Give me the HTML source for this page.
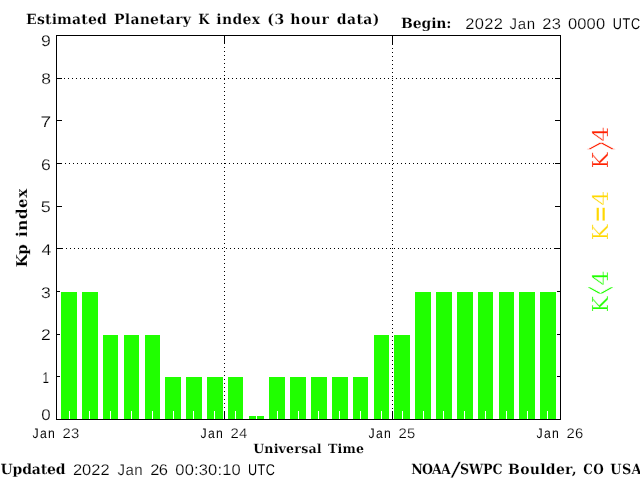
<!DOCTYPE html>
<html lang="en"><head><meta charset="utf-8"><title>Estimated Planetary K index</title>
<style>html,body{margin:0;padding:0;background:#fff;overflow:hidden}svg{display:block}text{white-space:pre;text-rendering:geometricPrecision}</style></head>
<body><svg width="640" height="480" viewBox="0 0 640 480">
<rect width="640" height="480" fill="#fff"/>
<g shape-rendering="crispEdges">
<rect x="56" y="35" width="505" height="1" fill="#000"/>
<rect x="56" y="419" width="505" height="1" fill="#000"/>
<rect x="56" y="35" width="1" height="385" fill="#000"/>
<rect x="560" y="35" width="1" height="385" fill="#000"/>
<rect x="57" y="376" width="5" height="1" fill="#000"/>
<rect x="555" y="376" width="5" height="1" fill="#000"/>
<rect x="57" y="334" width="5" height="1" fill="#000"/>
<rect x="555" y="334" width="5" height="1" fill="#000"/>
<rect x="57" y="291" width="5" height="1" fill="#000"/>
<rect x="555" y="291" width="5" height="1" fill="#000"/>
<rect x="57" y="248" width="5" height="1" fill="#000"/>
<rect x="555" y="248" width="5" height="1" fill="#000"/>
<rect x="57" y="206" width="5" height="1" fill="#000"/>
<rect x="555" y="206" width="5" height="1" fill="#000"/>
<rect x="57" y="163" width="5" height="1" fill="#000"/>
<rect x="555" y="163" width="5" height="1" fill="#000"/>
<rect x="57" y="120" width="5" height="1" fill="#000"/>
<rect x="555" y="120" width="5" height="1" fill="#000"/>
<rect x="57" y="78" width="5" height="1" fill="#000"/>
<rect x="555" y="78" width="5" height="1" fill="#000"/>
<rect x="224" y="36" width="1" height="8" fill="#000"/>
<rect x="224" y="411" width="1" height="8" fill="#000"/>
<rect x="392" y="36" width="1" height="8" fill="#000"/>
<rect x="392" y="411" width="1" height="8" fill="#000"/>
<line x1="60" y1="78.5" x2="557" y2="78.5" stroke="#000" stroke-dasharray="1 3"/>
<line x1="61" y1="163.5" x2="557" y2="163.5" stroke="#000" stroke-dasharray="1 3"/>
<line x1="62" y1="248.5" x2="557" y2="248.5" stroke="#000" stroke-dasharray="1 3"/>
<line x1="224.5" y1="47" x2="224.5" y2="410" stroke="#000" stroke-dasharray="1 3"/>
<line x1="392.5" y1="44" x2="392.5" y2="410" stroke="#000" stroke-dasharray="1 3"/>
<rect x="60" y="291" width="18" height="128" fill="#fff"/>
<rect x="61" y="292" width="16" height="127" fill="#20ff00"/>
<rect x="81" y="291" width="18" height="128" fill="#fff"/>
<rect x="82" y="292" width="16" height="127" fill="#20ff00"/>
<rect x="102" y="334" width="17" height="85" fill="#fff"/>
<rect x="103" y="335" width="15" height="84" fill="#20ff00"/>
<rect x="123" y="334" width="17" height="85" fill="#fff"/>
<rect x="124" y="335" width="15" height="84" fill="#20ff00"/>
<rect x="144" y="334" width="17" height="85" fill="#fff"/>
<rect x="145" y="335" width="15" height="84" fill="#20ff00"/>
<rect x="164" y="376" width="18" height="43" fill="#fff"/>
<rect x="165" y="377" width="16" height="42" fill="#20ff00"/>
<rect x="185" y="376" width="18" height="43" fill="#fff"/>
<rect x="186" y="377" width="16" height="42" fill="#20ff00"/>
<rect x="206" y="376" width="18" height="43" fill="#fff"/>
<rect x="207" y="377" width="16" height="42" fill="#20ff00"/>
<rect x="227" y="376" width="17" height="43" fill="#fff"/>
<rect x="228" y="377" width="15" height="42" fill="#20ff00"/>
<rect x="248" y="415" width="17" height="4" fill="#fff"/>
<rect x="249" y="416" width="15" height="3" fill="#20ff00"/>
<rect x="268" y="376" width="18" height="43" fill="#fff"/>
<rect x="269" y="377" width="16" height="42" fill="#20ff00"/>
<rect x="289" y="376" width="18" height="43" fill="#fff"/>
<rect x="290" y="377" width="16" height="42" fill="#20ff00"/>
<rect x="310" y="376" width="18" height="43" fill="#fff"/>
<rect x="311" y="377" width="16" height="42" fill="#20ff00"/>
<rect x="331" y="376" width="18" height="43" fill="#fff"/>
<rect x="332" y="377" width="16" height="42" fill="#20ff00"/>
<rect x="352" y="376" width="17" height="43" fill="#fff"/>
<rect x="353" y="377" width="15" height="42" fill="#20ff00"/>
<rect x="373" y="334" width="17" height="85" fill="#fff"/>
<rect x="374" y="335" width="15" height="84" fill="#20ff00"/>
<rect x="393" y="334" width="18" height="85" fill="#fff"/>
<rect x="394" y="335" width="16" height="84" fill="#20ff00"/>
<rect x="414" y="291" width="18" height="128" fill="#fff"/>
<rect x="415" y="292" width="16" height="127" fill="#20ff00"/>
<rect x="435" y="291" width="18" height="128" fill="#fff"/>
<rect x="436" y="292" width="16" height="127" fill="#20ff00"/>
<rect x="456" y="291" width="18" height="128" fill="#fff"/>
<rect x="457" y="292" width="16" height="127" fill="#20ff00"/>
<rect x="477" y="291" width="17" height="128" fill="#fff"/>
<rect x="478" y="292" width="15" height="127" fill="#20ff00"/>
<rect x="498" y="291" width="17" height="128" fill="#fff"/>
<rect x="499" y="292" width="15" height="127" fill="#20ff00"/>
<rect x="518" y="291" width="18" height="128" fill="#fff"/>
<rect x="519" y="292" width="16" height="127" fill="#20ff00"/>
<rect x="539" y="291" width="18" height="128" fill="#fff"/>
<rect x="540" y="292" width="16" height="127" fill="#20ff00"/>
<rect x="69" y="411" width="1" height="8" fill="#fff"/>
<rect x="89" y="411" width="1" height="8" fill="#fff"/>
<rect x="110" y="411" width="1" height="8" fill="#fff"/>
<rect x="131" y="411" width="1" height="8" fill="#fff"/>
<rect x="152" y="411" width="1" height="8" fill="#fff"/>
<rect x="173" y="411" width="1" height="8" fill="#fff"/>
<rect x="193" y="411" width="1" height="8" fill="#fff"/>
<rect x="214" y="411" width="1" height="8" fill="#fff"/>
<rect x="235" y="411" width="1" height="8" fill="#fff"/>
<rect x="256" y="411" width="1" height="8" fill="#fff"/>
<rect x="277" y="411" width="1" height="8" fill="#fff"/>
<rect x="298" y="411" width="1" height="8" fill="#fff"/>
<rect x="318" y="411" width="1" height="8" fill="#fff"/>
<rect x="339" y="411" width="1" height="8" fill="#fff"/>
<rect x="360" y="411" width="1" height="8" fill="#fff"/>
<rect x="381" y="411" width="1" height="8" fill="#fff"/>
<rect x="402" y="411" width="1" height="8" fill="#fff"/>
<rect x="423" y="411" width="1" height="8" fill="#fff"/>
<rect x="443" y="411" width="1" height="8" fill="#fff"/>
<rect x="464" y="411" width="1" height="8" fill="#fff"/>
<rect x="485" y="411" width="1" height="8" fill="#fff"/>
<rect x="506" y="411" width="1" height="8" fill="#fff"/>
<rect x="527" y="411" width="1" height="8" fill="#fff"/>
<rect x="547" y="411" width="1" height="8" fill="#fff"/>
</g>
<g>
<text><tspan x="26.11" y="24" style="font-family:'DejaVu Serif','Liberation Serif',serif;font-weight:700;fill:#000;stroke:#fff;stroke-width:0.15px;font-size:14px;letter-spacing:0.166px">Estimated</tspan> <tspan x="114.11" y="24" style="font-family:'DejaVu Serif','Liberation Serif',serif;font-weight:700;fill:#000;stroke:#fff;stroke-width:0.15px;font-size:14px;letter-spacing:0.226px">Planetary</tspan> <tspan x="198.17" y="24" textLength="11.237" lengthAdjust="spacingAndGlyphs" style="font-family:'DejaVu Serif','Liberation Serif',serif;font-weight:700;fill:#000;stroke:#fff;stroke-width:0.15px;font-size:14px">K</tspan> <tspan x="216.23" y="24" style="font-family:'DejaVu Serif','Liberation Serif',serif;font-weight:700;fill:#000;stroke:#fff;stroke-width:0.15px;font-size:14px;letter-spacing:0.352px">index</tspan> <tspan x="267.23" y="24" style="font-family:'DejaVu Serif','Liberation Serif',serif;font-weight:700;fill:#000;stroke:#fff;stroke-width:0.15px;font-size:14px;letter-spacing:0.656px">(3</tspan> <tspan x="290.27" y="24" style="font-family:'DejaVu Serif','Liberation Serif',serif;font-weight:700;fill:#000;stroke:#fff;stroke-width:0.15px;font-size:14px;letter-spacing:0.541px">hour</tspan> <tspan x="336.72" y="24" style="font-family:'DejaVu Serif','Liberation Serif',serif;font-weight:700;fill:#000;stroke:#fff;stroke-width:0.15px;font-size:14px;letter-spacing:0.425px">data)</tspan></text>
<text><tspan x="401.11" y="28.3" style="font-family:'DejaVu Serif','Liberation Serif',serif;font-weight:700;fill:#000;stroke:#fff;stroke-width:0.15px;font-size:14px;letter-spacing:-0.153px">Begin:</tspan> <tspan x="465.17" y="29" textLength="38.150" lengthAdjust="spacingAndGlyphs" style="font-family:'Liberation Sans',sans-serif;font-weight:400;fill:#000;stroke:#fff;stroke-width:0.2px;font-size:15.5px;letter-spacing:0.334px">2022</tspan> <tspan x="509.52" y="29" textLength="26.277" lengthAdjust="spacingAndGlyphs" style="font-family:'Liberation Sans',sans-serif;font-weight:400;fill:#000;stroke:#fff;stroke-width:0.2px;font-size:15.5px;letter-spacing:0.697px">Jan</tspan> <tspan x="542.17" y="29" textLength="19.218" lengthAdjust="spacingAndGlyphs" style="font-family:'Liberation Sans',sans-serif;font-weight:400;fill:#000;stroke:#fff;stroke-width:0.2px;font-size:15.5px;letter-spacing:0.398px">23</tspan> <tspan x="568.07" y="29" textLength="37.099" lengthAdjust="spacingAndGlyphs" style="font-family:'Liberation Sans',sans-serif;font-weight:400;fill:#000;stroke:#fff;stroke-width:0.2px;font-size:15.5px;letter-spacing:0.088px">0000</tspan> <tspan x="612.75" y="29" textLength="28.217" lengthAdjust="spacingAndGlyphs" style="font-family:'Liberation Sans',sans-serif;font-weight:400;fill:#000;font-size:15.5px;letter-spacing:0.921px">UTC</tspan></text>
<text><tspan x="253.13" y="453" style="font-family:'DejaVu Serif','Liberation Serif',serif;font-weight:700;fill:#000;stroke:#fff;stroke-width:0.15px;font-size:12.6px;letter-spacing:0.187px">Universal</tspan> <tspan x="328.09" y="453" style="font-family:'DejaVu Serif','Liberation Serif',serif;font-weight:700;fill:#000;stroke:#fff;stroke-width:0.15px;font-size:12.6px;letter-spacing:0.164px">Time</tspan></text>
<text><tspan x="0.48" y="474.4" style="font-family:'DejaVu Serif','Liberation Serif',serif;font-weight:700;fill:#000;stroke:#fff;stroke-width:0.15px;font-size:14px;letter-spacing:-0.144px">Updated</tspan> <tspan x="72.92" y="475" textLength="36.817" lengthAdjust="spacingAndGlyphs" style="font-family:'Liberation Sans',sans-serif;font-weight:400;fill:#000;stroke:#fff;stroke-width:0.2px;font-size:15.5px;letter-spacing:0.021px">2022</tspan> <tspan x="117.52" y="475" textLength="25.527" lengthAdjust="spacingAndGlyphs" style="font-family:'Liberation Sans',sans-serif;font-weight:400;fill:#000;stroke:#fff;stroke-width:0.2px;font-size:15.5px;letter-spacing:0.439px">Jan</tspan> <tspan x="150.17" y="475" textLength="17.127" lengthAdjust="spacingAndGlyphs" style="font-family:'Liberation Sans',sans-serif;font-weight:400;fill:#000;stroke:#fff;stroke-width:0.2px;font-size:15.5px;letter-spacing:-0.584px">26</tspan> <tspan x="175.32" y="475" textLength="65.512" lengthAdjust="spacingAndGlyphs" style="font-family:'Liberation Sans',sans-serif;font-weight:400;fill:#000;stroke:#fff;stroke-width:0.2px;font-size:15.5px;letter-spacing:0.146px">00:30:10</tspan> <tspan x="248.00" y="475" textLength="27.467" lengthAdjust="spacingAndGlyphs" style="font-family:'Liberation Sans',sans-serif;font-weight:400;fill:#000;font-size:15.5px;letter-spacing:0.614px">UTC</tspan></text>
<text><tspan x="411.21" y="474.4" textLength="38.759" lengthAdjust="spacingAndGlyphs" style="font-family:'DejaVu Serif','Liberation Serif',serif;font-weight:700;fill:#000;stroke:#fff;stroke-width:0.15px;font-size:14px;letter-spacing:-0.913px">NOAA</tspan><tspan x="450.47" y="476.26" textLength="10.390" lengthAdjust="spacingAndGlyphs" style="font-family:'DejaVu Serif','Liberation Serif',serif;font-weight:400;fill:#000;stroke:#fff;stroke-width:0.3px;font-size:19.62px">/</tspan><tspan x="459.94" y="474.4" textLength="42.604" lengthAdjust="spacingAndGlyphs" style="font-family:'DejaVu Serif','Liberation Serif',serif;font-weight:700;fill:#000;stroke:#fff;stroke-width:0.15px;font-size:14px;letter-spacing:-0.044px">SWPC</tspan> <tspan x="508.11" y="474.4" style="font-family:'DejaVu Serif','Liberation Serif',serif;font-weight:700;fill:#000;stroke:#fff;stroke-width:0.15px;font-size:14px;letter-spacing:0.262px">Boulder,</tspan> <tspan x="583.26" y="474.4" textLength="20.741" lengthAdjust="spacingAndGlyphs" style="font-family:'DejaVu Serif','Liberation Serif',serif;font-weight:700;fill:#000;stroke:#fff;stroke-width:0.15px;font-size:14px;letter-spacing:0.387px">CO</tspan> <tspan x="610.28" y="474.4" textLength="31.766" lengthAdjust="spacingAndGlyphs" style="font-family:'DejaVu Serif','Liberation Serif',serif;font-weight:700;fill:#000;stroke:#fff;stroke-width:0.15px;font-size:14px;letter-spacing:0.447px">USA</tspan></text>
<text><tspan x="32.41" y="438" textLength="23.820" lengthAdjust="spacingAndGlyphs" style="font-family:'Liberation Sans',sans-serif;font-weight:400;fill:#000;font-size:14px;letter-spacing:1.600px">Jan</tspan> <tspan x="62.44" y="438" textLength="16.983" lengthAdjust="spacingAndGlyphs" style="font-family:'Liberation Sans',sans-serif;font-weight:400;fill:#000;stroke:#fff;stroke-width:0.2px;font-size:14px;letter-spacing:0.222px">23</tspan></text>
<text><tspan x="200.41" y="438" textLength="23.820" lengthAdjust="spacingAndGlyphs" style="font-family:'Liberation Sans',sans-serif;font-weight:400;fill:#000;font-size:14px;letter-spacing:1.600px">Jan</tspan> <tspan x="230.44" y="438" textLength="17.208" lengthAdjust="spacingAndGlyphs" style="font-family:'Liberation Sans',sans-serif;font-weight:400;fill:#000;stroke:#fff;stroke-width:0.2px;font-size:14px;letter-spacing:0.328px">24</tspan></text>
<text><tspan x="368.41" y="438" textLength="23.820" lengthAdjust="spacingAndGlyphs" style="font-family:'Liberation Sans',sans-serif;font-weight:400;fill:#000;font-size:14px;letter-spacing:1.600px">Jan</tspan> <tspan x="398.44" y="438" textLength="16.934" lengthAdjust="spacingAndGlyphs" style="font-family:'Liberation Sans',sans-serif;font-weight:400;fill:#000;stroke:#fff;stroke-width:0.2px;font-size:14px;letter-spacing:0.198px">25</tspan></text>
<text><tspan x="536.41" y="438" textLength="23.820" lengthAdjust="spacingAndGlyphs" style="font-family:'Liberation Sans',sans-serif;font-weight:400;fill:#000;font-size:14px;letter-spacing:1.600px">Jan</tspan> <tspan x="566.44" y="438" textLength="16.975" lengthAdjust="spacingAndGlyphs" style="font-family:'Liberation Sans',sans-serif;font-weight:400;fill:#000;stroke:#fff;stroke-width:0.2px;font-size:14px;letter-spacing:0.218px">26</tspan></text>
<text><tspan x="41.30" y="420" textLength="9.404" lengthAdjust="spacingAndGlyphs" style="font-family:'Liberation Sans',sans-serif;font-weight:400;fill:#000;stroke:#fff;stroke-width:0.2px;font-size:15.5px">0</tspan></text>
<text><tspan x="42.59" y="383" textLength="6.503" lengthAdjust="spacingAndGlyphs" style="font-family:'Liberation Sans',sans-serif;font-weight:400;fill:#000;stroke:#fff;stroke-width:0.2px;font-size:15.5px">1</tspan></text>
<text><tspan x="41.11" y="340" textLength="9.797" lengthAdjust="spacingAndGlyphs" style="font-family:'Liberation Sans',sans-serif;font-weight:400;fill:#000;stroke:#fff;stroke-width:0.2px;font-size:15.5px">2</tspan></text>
<text><tspan x="41.11" y="298" textLength="9.791" lengthAdjust="spacingAndGlyphs" style="font-family:'Liberation Sans',sans-serif;font-weight:400;fill:#000;stroke:#fff;stroke-width:0.2px;font-size:15.5px">3</tspan></text>
<text><tspan x="41.48" y="255" textLength="9.813" lengthAdjust="spacingAndGlyphs" style="font-family:'Liberation Sans',sans-serif;font-weight:400;fill:#000;stroke:#fff;stroke-width:0.2px;font-size:15.5px">4</tspan></text>
<text><tspan x="40.84" y="212" textLength="9.997" lengthAdjust="spacingAndGlyphs" style="font-family:'Liberation Sans',sans-serif;font-weight:400;fill:#000;stroke:#fff;stroke-width:0.2px;font-size:15.5px">5</tspan></text>
<text><tspan x="41.05" y="170" textLength="9.802" lengthAdjust="spacingAndGlyphs" style="font-family:'Liberation Sans',sans-serif;font-weight:400;fill:#000;stroke:#fff;stroke-width:0.2px;font-size:15.5px">6</tspan></text>
<text><tspan x="40.43" y="127" textLength="10.657" lengthAdjust="spacingAndGlyphs" style="font-family:'Liberation Sans',sans-serif;font-weight:400;fill:#000;stroke:#fff;stroke-width:0.2px;font-size:15.5px">7</tspan></text>
<text><tspan x="41.16" y="84" textLength="9.716" lengthAdjust="spacingAndGlyphs" style="font-family:'Liberation Sans',sans-serif;font-weight:400;fill:#000;stroke:#fff;stroke-width:0.2px;font-size:15.5px">8</tspan></text>
<text><tspan x="41.10" y="46" textLength="9.797" lengthAdjust="spacingAndGlyphs" style="font-family:'Liberation Sans',sans-serif;font-weight:400;fill:#000;stroke:#fff;stroke-width:0.2px;font-size:15.5px">9</tspan></text>
<text transform="translate(27.3,266.3) rotate(-90)"><tspan x="-0.86" y="0" style="font-family:'DejaVu Serif','Liberation Serif',serif;font-weight:700;fill:#000;stroke:#fff;stroke-width:0.15px;font-size:15px;letter-spacing:-0.690px">Kp</tspan> <tspan x="29.32" y="0" style="font-family:'DejaVu Serif','Liberation Serif',serif;font-weight:700;fill:#000;stroke:#fff;stroke-width:0.15px;font-size:15px;letter-spacing:0.662px">index</tspan></text>
<text transform="translate(608,167) rotate(-90)"><tspan x="-1.20" y="0.00" textLength="15.901" lengthAdjust="spacingAndGlyphs" style="font-family:'DejaVu Serif','Liberation Serif',serif;font-weight:400;fill:#ff2000;stroke:#fff;stroke-width:0.3px;font-size:22.00px">K</tspan><tspan x="16.57" y="9.98" textLength="8.912" lengthAdjust="spacingAndGlyphs" style="font-family:'DejaVu Serif','Liberation Serif',serif;font-weight:400;fill:#ff2000;stroke:#fff;stroke-width:1.6px;font-size:53.96px">&gt;</tspan><tspan x="25.18" y="0.00" textLength="15.297" lengthAdjust="spacingAndGlyphs" style="font-family:'DejaVu Serif','Liberation Serif',serif;font-weight:400;fill:#ff2000;stroke:#fff;stroke-width:0.3px;font-size:21.66px">4</tspan></text>
<text transform="translate(608,239) rotate(-90)"><tspan x="-1.20" y="0.00" textLength="15.901" lengthAdjust="spacingAndGlyphs" style="font-family:'DejaVu Serif','Liberation Serif',serif;font-weight:400;fill:#ffd800;stroke:#fff;stroke-width:0.3px;font-size:22.00px">K</tspan><tspan x="16.30" y="2.24" textLength="17.283" lengthAdjust="spacingAndGlyphs" style="font-family:'DejaVu Serif','Liberation Serif',serif;font-weight:400;fill:#ffd800;stroke:#fff;stroke-width:0.1px;font-size:29.56px">=</tspan><tspan x="33.39" y="0.00" textLength="15.061" lengthAdjust="spacingAndGlyphs" style="font-family:'DejaVu Serif','Liberation Serif',serif;font-weight:400;fill:#ffd800;stroke:#fff;stroke-width:0.3px;font-size:21.66px">4</tspan></text>
<text transform="translate(608,311) rotate(-90)"><tspan x="-1.20" y="0.00" textLength="15.901" lengthAdjust="spacingAndGlyphs" style="font-family:'DejaVu Serif','Liberation Serif',serif;font-weight:400;fill:#20ff00;stroke:#fff;stroke-width:0.3px;font-size:22.00px">K</tspan><tspan x="16.05" y="9.48" textLength="9.047" lengthAdjust="spacingAndGlyphs" style="font-family:'DejaVu Serif','Liberation Serif',serif;font-weight:400;fill:#20ff00;stroke:#fff;stroke-width:1.6px;font-size:52.70px">&lt;</tspan><tspan x="25.18" y="0.00" textLength="15.297" lengthAdjust="spacingAndGlyphs" style="font-family:'DejaVu Serif','Liberation Serif',serif;font-weight:400;fill:#20ff00;stroke:#fff;stroke-width:0.3px;font-size:21.66px">4</tspan></text>
</g>
</svg></body></html>
